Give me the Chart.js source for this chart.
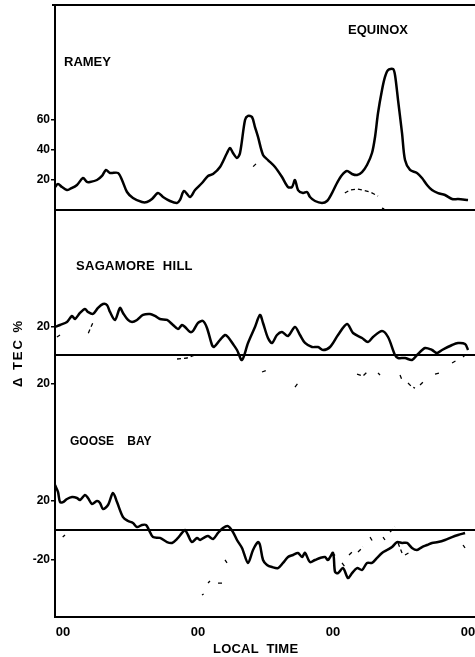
<!DOCTYPE html>
<html><head><meta charset="utf-8">
<script src="https://cdn.jsdelivr.net/npm/chart.js@4.4.1/dist/chart.umd.min.js"></script>
<style>html,body{margin:0;padding:0;background:#fff;} #wrap{width:475px;height:657px;position:relative;}</style>
</head><body><div id="wrap"><canvas id="c"></canvas></div>
<script>
// ---- axis ticks ----
const dayTicks = [0, 24, 48, 72];
const dayTickLabels = ['00', '00', '00', '00'];
const rameyTicks = [20, 40, 60];
const rameyTickLabels = ['20', '40', '60'];
const sagTicks = [20, -20];
const sagTickLabels = ['20', '20'];
const gooseTicks = [20, -20];
const gooseTickLabels = ['20', '-20'];

// ---- RAMEY (local time hours, delta TEC %) ----
const rameyHours = [-1.42,-0.89,-0.18,0.71,1.24,2.49,3.56,4.27,4.80,6.04,6.93,7.64,8.36,9.78,10.49,11.38,12.44,14.04,14.93,15.82,16.89,17.78,19.02,20.27,20.80,21.51,22.58,23.47,24.71,25.78,26.67,27.91,29.16,29.69,30.22,30.93,31.47,32.36,32.89,33.60,34.13,34.67,35.56,36.44,37.69,38.93,40.00,40.71,41.24,41.78,42.67,43.38,43.91,44.80,46.04,46.93,47.82,48.71,49.60,50.49,51.38,52.27,53.16,54.04,54.93,55.47,56.00,56.71,57.24,57.78,58.67,59.02,59.56,60.27,60.80,61.69,62.93,63.82,64.71,65.60,66.67,67.91,69.16,70.22,72.00];
const rameySolid = [15.3,17.3,15.3,13.3,14.0,16.7,21.3,18.7,18.7,20.0,22.7,26.7,24.7,24.7,20.0,12.0,8.0,5.3,5.3,7.3,11.3,8.7,6.0,4.7,6.7,12.7,8.7,13.3,18.0,22.7,24.0,28.7,38.0,41.3,38.0,34.7,38.0,60.0,62.7,62.0,55.3,48.7,36.7,33.3,28.7,22.0,15.3,15.3,20.0,13.3,11.3,12.0,8.7,6.0,4.7,6.0,11.3,18.0,23.3,26.0,24.0,23.3,25.3,30.0,38.0,48.7,64.7,80.0,88.7,93.3,94.0,90.0,73.3,51.3,33.3,26.7,24.7,21.3,16.7,13.3,11.3,10.0,7.3,7.3,6.7];
const rameyDashHours = [33.8,34.7,null,50.1,51.0,52.3,53.3,54.6,56.0,null,56.7,57.1];
const rameyDash = [28.9,32.2,null,11.3,13.3,14.0,13.3,12.0,9.3,null,1.3,0.7];

// ---- SAGAMORE HILL ----
const sagHours = [-1.42,-0.53,0.71,1.60,2.13,3.02,3.91,4.44,5.33,6.22,7.11,7.82,8.36,9.24,10.13,10.67,11.56,12.27,13.16,14.22,15.47,16.36,17.24,18.49,19.56,20.44,21.16,21.69,22.58,23.11,24.00,24.89,25.60,26.49,26.84,27.91,28.80,29.33,30.22,30.93,31.82,32.89,34.13,35.02,35.56,36.44,37.16,38.04,38.93,40.00,41.24,42.13,43.02,44.27,45.33,46.22,47.47,48.89,50.49,51.56,53.16,54.22,55.11,56.71,57.78,59.02,59.56,60.80,62.04,62.93,64.36,65.60,66.49,67.38,69.16,70.22,71.47,72.00];
const sagSolid = [19.6,21.0,23.1,27.3,25.2,29.4,32.2,30.1,28.7,32.9,35.7,35.0,30.1,24.5,32.9,29.4,24.5,23.1,24.5,28.0,28.7,27.3,25.2,24.5,21.0,18.2,21.0,19.6,16.1,16.8,22.4,23.8,18.9,7.0,5.6,10.5,14.0,12.6,7.7,3.5,-3.5,8.4,19.6,28.0,22.4,11.9,8.4,14.0,16.1,13.3,19.6,14.0,8.4,5.6,5.6,3.5,5.6,14.0,21.7,15.4,11.9,9.1,12.6,16.8,12.6,0,-2.1,-2.1,-3.5,0,4.9,3.5,1.4,3.5,7.0,8.4,7.7,3.5];
const sagDashHours = [-1.07,-0.53,null,4.5,5.39,null,20.27,22.04,23.82,null,35.38,36.27,null,41.24,41.78,null,52.27,53.33,54.04,null,56.0,56.36,null,59.91,60.27,null,61.33,62.04,62.58,null,63.47,64.0,null,66.13,67.02,null,69.16,70.04,null,71.11,71.47];
const sagDash = [12.6,14.0,null,15.2,23.3,null,-2.8,-2.1,0.7,null,-11.9,-10.5,null,-22.4,-19.6,null,-13.3,-14.7,-11.9,null,-12.6,-14.0,null,-14.0,-17.5,null,-19.6,-22.4,-23.1,null,-21.0,-18.9,null,-13.3,-12.6,null,-5.6,-3.5,null,-1.4,0];

// ---- GOOSE BAY ----
const gooseHours = [-1.42,-0.89,-0.53,0,0.71,1.60,2.49,3.02,3.91,4.44,5.16,6.04,6.58,7.11,8.00,8.89,9.60,10.67,11.56,12.44,13.16,14.04,14.76,15.29,16.00,17.24,18.49,19.38,20.27,21.16,21.69,22.22,22.93,23.82,24.36,25.24,25.78,26.67,27.56,28.44,29.33,30.22,30.93,31.82,32.89,33.78,34.67,35.02,35.56,36.27,37.16,38.22,39.11,40.00,40.89,41.78,42.49,43.02,43.91,44.80,45.69,46.58,47.11,48.00,48.36,48.89,49.78,50.67,51.38,52.27,53.16,54.04,54.93,55.82,56.71,57.60,58.49,59.38,60.27,61.16,62.04,62.93,63.82,64.71,65.60,66.67,67.91,69.16,70.22,71.47];
const gooseSolid = [30.6,25.9,19.0,19.0,21.1,22.4,21.8,20.4,23.8,21.8,17.7,19.7,18.4,14.3,17.0,25.2,19.0,8.8,6.1,4.8,2.0,3.4,3.4,0,-4.8,-5.4,-8.2,-8.8,-6.1,-2.0,0,-3.4,-8.2,-5.4,-6.8,-4.8,-4.1,-6.1,-2.0,1.4,2.7,-1.4,-6.8,-12.2,-22.4,-13.6,-8.2,-10.2,-20.4,-23.8,-25.2,-25.9,-22.4,-18.4,-17.0,-15.6,-18.4,-15.6,-21.8,-20.4,-19.0,-18.4,-20.4,-15.6,-28.6,-29.3,-25.9,-32.7,-29.3,-25.9,-27.2,-22.4,-22.4,-19.0,-15.6,-13.6,-11.6,-8.2,-8.8,-8.8,-12.2,-13.6,-11.6,-10.2,-8.8,-8.2,-6.8,-4.8,-3.4,-2.0];
const gooseDashHours = [-0.05,0.36,null,24.71,25.0,null,25.78,26.13,null,27.56,28.27,null,28.8,29.16,null,47.82,48.71,null,49.6,50.13,null,50.84,51.38,null,52.44,53.33,null,54.58,55.11,null,56.89,57.24,null,58.13,59.02,null,59.56,60.27,null,60.8,61.69,null,71.11,71.47];
const gooseDash = [-4.8,-3.4,null,-44.2,-43.5,null,-36.1,-34.7,null,-36.1,-36.1,null,-20.4,-22.4,null,-15.6,-18.4,null,-22.4,-25.2,null,-17.0,-15.0,null,-15.0,-11.6,null,-4.8,-8.2,null,-4.8,-6.8,null,-1.4,2.0,null,-8.8,-15.6,null,-17.0,-15.0,null,-10.2,-12.2];

// ---- texts ----
const figureTexts = [
  {text: 'RAMEY', x: 64, y: 66, size: 13, ls: 0},
  {text: 'EQUINOX', x: 348, y: 34, size: 13, ls: 0},
  {text: 'SAGAMORE  HILL', x: 76, y: 270, size: 13, ls: 0.3},
  {text: 'GOOSE    BAY', x: 70, y: 445, size: 12, ls: 0},
  {text: 'LOCAL  TIME', x: 213, y: 653, size: 13, ls: 0.2}
];
const yTitle = {text: 'Δ TEC %', x: 18, y: 353, size: 13, ls: 2};

const FONT = "'Liberation Sans', Arial, Helvetica, sans-serif";
Chart.defaults.font.family = FONT;
Chart.defaults.color = '#000';

const pts = (xs, ys) => xs.map((x, i) => ({x: x === null ? NaN : x, y: ys[i] === null ? NaN : ys[i]}));

const solid = (label, xs, ys, axis) => ({label, data: pts(xs, ys), yAxisID: axis, borderColor: '#000', borderWidth: 2.5, pointRadius: 0, tension: 0.3, fill: false});
const dashed = (label, xs, ys, axis) => ({label, data: pts(xs, ys), yAxisID: axis, borderColor: '#000', borderWidth: 1.3, borderDash: [4, 3], pointRadius: 0, tension: 0, spanGaps: false, fill: false});
const base = (axis) => ({label: 'zero', data: [{x: -5, y: 0}, {x: 80, y: 0}], yAxisID: axis, borderColor: '#000', borderWidth: 2, pointRadius: 0, fill: false});

const tickCfg = (ticks, labels) => ({
  afterBuildTicks: (ax) => { ax.ticks = ticks.map(v => ({value: v})); },
  ticks: {font: {size: 12, weight: 'bold'}, padding: 1, callback: (v, i) => labels[i]}
});

const frame = {
  id: 'frame',
  afterDraw(chart) {
    const {ctx, chartArea} = chart;
    ctx.save();
    ctx.strokeStyle = '#000';
    ctx.lineWidth = 2;
    ctx.beginPath();
    ctx.moveTo(chartArea.left - 3, chartArea.top);
    ctx.lineTo(chartArea.right, chartArea.top);
    ctx.stroke();
    ctx.fillStyle = '#000';
    ctx.textBaseline = 'alphabetic';
    ctx.textAlign = 'left';
    for (const t of figureTexts) {
      ctx.font = 'bold ' + t.size + 'px ' + FONT;
      if ('letterSpacing' in ctx) ctx.letterSpacing = t.ls + 'px';
      ctx.fillText(t.text, t.x, t.y);
    }
    ctx.translate(yTitle.x, yTitle.y);
    ctx.rotate(-Math.PI / 2);
    ctx.font = 'bold ' + yTitle.size + 'px ' + FONT;
    if ('letterSpacing' in ctx) ctx.letterSpacing = yTitle.ls + 'px';
    ctx.textAlign = 'center';
    ctx.textBaseline = 'middle';
    ctx.fillText(yTitle.text, 0, 0);
    ctx.restore();
  }
};

const yAxis = (min, max, weight, order, ticks, labels) => Object.assign({
  type: 'linear', position: 'left', stack: 'panels', stackWeight: weight, weight: order,
  min, max,
  afterFit: (s) => { s.width = 55; s.paddingTop = 0; s.paddingBottom = 0; },
  grid: {display: true, drawOnChartArea: false, drawTicks: true, tickLength: 4, color: '#000', lineWidth: 1.5},
  border: {display: true, color: '#000', width: 2}
}, tickCfg(ticks, labels));

new Chart(document.getElementById('c'), {
  type: 'line',
  data: {
    datasets: [
      base('yR'), base('yS'), base('yG'),
      solid('Ramey', rameyHours, rameySolid, 'yR'),
      dashed('Ramey quiet', rameyDashHours, rameyDash, 'yR'),
      solid('Sagamore Hill', sagHours, sagSolid, 'yS'),
      dashed('Sagamore Hill quiet', sagDashHours, sagDash, 'yS'),
      solid('Goose Bay', gooseHours, gooseSolid, 'yG'),
      dashed('Goose Bay quiet', gooseDashHours, gooseDash, 'yG')
    ]
  },
  options: {
    responsive: true,
    maintainAspectRatio: false,
    animation: false,
    layout: {padding: {top: 5, left: 0, right: 0, bottom: 0}},
    plugins: {legend: {display: false}, tooltip: {enabled: false}, title: {display: false}},
    scales: {
      x: {
        type: 'linear', min: -1.42, max: 73.24,
        afterFit: (s) => { s.height = 40; s.paddingLeft = 0; s.paddingRight = 0; },
        afterBuildTicks: (ax) => { ax.ticks = dayTicks.map(v => ({value: v})); },
        ticks: {font: {size: 13, weight: 'bold'}, padding: 8, maxRotation: 0, callback: (v, i) => dayTickLabels[i]},
        grid: {display: true, drawOnChartArea: false, drawTicks: false},
        border: {display: true, color: '#000', width: 2}
      },
      yR: yAxis(-19.33, 136.67, 234, 3, rameyTicks, rameyTickLabels),
      yS: yAxis(-38.46, 81.12, 171, 2, sagTicks, sagTickLabels),
      yG: yAxis(-59.18, 81.63, 207, 1, gooseTicks, gooseTickLabels)
    }
  },
  plugins: [frame]
});
</script>
</body></html>
